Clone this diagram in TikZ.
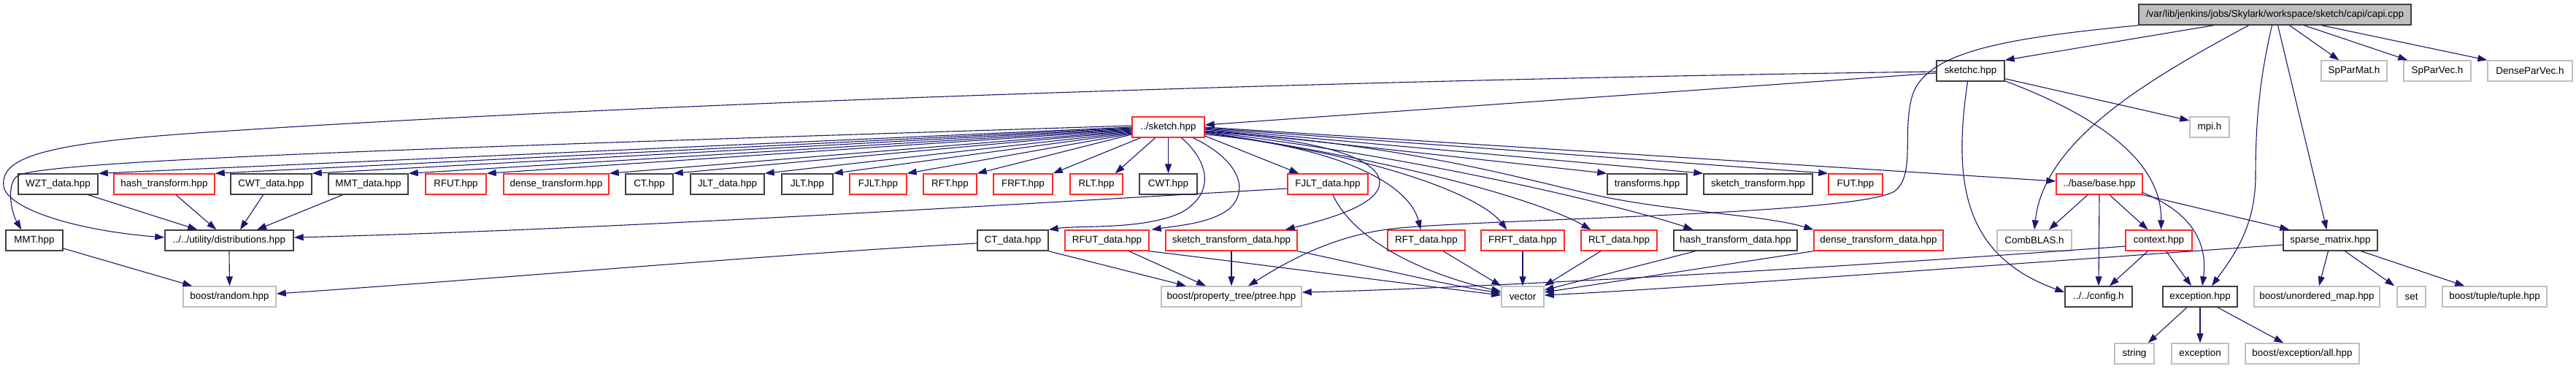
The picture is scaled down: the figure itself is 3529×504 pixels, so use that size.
\documentclass[tikz,border=0pt]{standalone}
\usepackage{fontspec}
\setmainfont{Liberation Sans}
\usetikzlibrary{arrows.meta}
\definecolor{edgeblue}{HTML}{191970}
\definecolor{boxred}{HTML}{FF2A2A}
\definecolor{boxgray}{HTML}{BFBFBF}
\definecolor{boxblack}{HTML}{404040}
\tikzset{
  base/.style={rectangle, inner sep=0pt, minimum height=28pt, line width=1.4pt, fill=white,
    font=\fontsize{13.4}{16}\selectfont, text=black},
  bx/.style={base, draw=boxblack},
  rbx/.style={base, draw=boxred},
  gbx/.style={base, draw=boxgray},
  rootbx/.style={base, draw=boxblack, fill=boxgray},
  edge/.style={draw=edgeblue, line width=1.1pt, -{Triangle[length=13pt,width=9pt]}}
}
\begin{document}
\begin{tikzpicture}[x=1pt,y=1pt]
\useasboundingbox (0,0) rectangle (3529,-504);
% row 0
\node[rootbx, minimum width=373] (capi) at (3116.5,-20) {/var/lib/jenkins/jobs/Skylark/workspace/sketch/capi/capi.cpp};
% row 1
\node[bx, minimum width=93] (sketchc) at (2699.5,-97) {sketchc.hpp};
\node[gbx, minimum width=90] (SpParMat) at (3225,-97) {SpParMat.h};
\node[gbx, minimum width=92] (SpParVec) at (3339,-97) {SpParVec.h};
\node[gbx, minimum width=116] (DenseParVec) at (3466,-97) {DenseParVec.h};
% row 2
\node[rbx, minimum width=99] (sketch) at (1600.5,-174) {../sketch.hpp};
\node[gbx, minimum width=54] (mpi) at (3027,-174) {mpi.h};
% row 3
\node[bx, minimum width=109] (WZT) at (79.5,-252) {WZT\_data.hpp};
\node[rbx, minimum width=138] (hasht) at (225,-252) {hash\_transform.hpp};
\node[bx, minimum width=111] (CWTd) at (371.5,-252) {CWT\_data.hpp};
\node[bx, minimum width=109] (MMTd) at (504.5,-252) {MMT\_data.hpp};
\node[rbx, minimum width=83] (RFUT) at (624.5,-252) {RFUT.hpp};
\node[rbx, minimum width=144] (denset) at (762,-252) {dense\_transform.hpp};
\node[bx, minimum width=65] (CT) at (889.5,-252) {CT.hpp};
\node[bx, minimum width=101] (JLTd) at (996.5,-252) {JLT\_data.hpp};
\node[bx, minimum width=70] (JLT) at (1106,-252) {JLT.hpp};
\node[rbx, minimum width=78] (FJLT) at (1203,-252) {FJLT.hpp};
\node[rbx, minimum width=73] (RFT) at (1301.5,-252) {RFT.hpp};
\node[rbx, minimum width=81] (FRFT) at (1401.5,-252) {FRFT.hpp};
\node[rbx, minimum width=72] (RLT) at (1502,-252) {RLT.hpp};
\node[bx, minimum width=79] (CWT) at (1600.5,-252) {CWT.hpp};
\node[rbx, minimum width=110] (FJLTd) at (1819,-252) {FJLT\_data.hpp};
\node[bx, minimum width=109] (transforms) at (2256.5,-252) {transforms.hpp};
\node[bx, minimum width=149] (skt) at (2408.5,-252) {sketch\_transform.hpp};
\node[rbx, minimum width=74] (FUT) at (2542,-252) {FUT.hpp};
\node[rbx, minimum width=118] (basehpp) at (2876,-252) {../base/base.hpp};
% row 4
\node[bx, minimum width=78] (MMT) at (47,-329) {MMT.hpp};
\node[bx, minimum width=176] (dist) at (314,-329) {../../utility/distributions.hpp};
\node[bx, minimum width=97] (CTd) at (1387.5,-329) {CT\_data.hpp};
\node[rbx, minimum width=115] (RFUTd) at (1516.5,-329) {RFUT\_data.hpp};
\node[rbx, minimum width=180] (sktd) at (1687,-329) {sketch\_transform\_data.hpp};
\node[rbx, minimum width=106] (RFTd) at (1954,-329) {RFT\_data.hpp};
\node[rbx, minimum width=114] (FRFTd) at (2086,-329) {FRFT\_data.hpp};
\node[rbx, minimum width=104] (RLTd) at (2218,-329) {RLT\_data.hpp};
\node[bx, minimum width=169] (hashtd) at (2377.5,-329) {hash\_transform\_data.hpp};
\node[rbx, minimum width=177] (densetd) at (2573.5,-329) {dense\_transform\_data.hpp};
\node[gbx, minimum width=102] (CombBLAS) at (2787,-329) {CombBLAS.h};
\node[rbx, minimum width=91] (context) at (2957.5,-329) {context.hpp};
\node[bx, minimum width=129] (sparse) at (3192.5,-329) {sparse\_matrix.hpp};
% row 5
\node[gbx, minimum width=127] (random) at (314.5,-406) {boost/random.hpp};
\node[gbx, minimum width=192] (ptree) at (1687,-406) {boost/property\_tree/ptree.hpp};
\node[gbx, minimum width=58] (vector) at (2086,-406) {vector};
\node[bx, minimum width=92] (config) at (2875,-406) {../../config.h};
\node[bx, minimum width=102] (exch) at (3014,-406) {exception.hpp};
\node[gbx, minimum width=172] (umap) at (3174,-406) {boost/unordered\_map.hpp};
\node[gbx, minimum width=39] (set) at (3303.5,-406) {set};
\node[gbx, minimum width=143] (tuple) at (3417.5,-406) {boost/tuple/tuple.hpp};
% row 6
\node[gbx, minimum width=54] (string) at (2924,-484) {string};
\node[gbx, minimum width=78] (exc) at (3014,-484) {exception};
\node[gbx, minimum width=156] (allhpp) at (3154,-484) {boost/exception/all.hpp};

% ---- edges from capi
\draw[edge] ([xshift=-84]capi.south) -- (sketchc.north east);
\draw[edge] (capi.south west) .. controls (2750,-52) and (2640,-70) .. (2620,-130)
  .. controls (2605,-180) and (2625,-240) .. (2595,-262)
  .. controls (2540,-295) and (2000,-300) .. (1900,-314)
  .. controls (1820,-325) and (1760,-360) .. ([xshift=23]ptree.north);
\draw[edge] ([xshift=-36]capi.south) .. controls (2950,-105) and (2800,-190) .. (CombBLAS.north);
\draw[edge] ([xshift=-4]capi.south) .. controls (3095,-110) and (3090,-170) .. (3090,-240)
  .. controls (3090,-310) and (3060,-350) .. ([xshift=16]exch.north);
\draw[edge] ([xshift=4]capi.south) -- ([xshift=-5]sparse.north);
\draw[edge] ([xshift=20]capi.south) -- ([xshift=25]SpParMat.north west);
\draw[edge] ([xshift=40]capi.south) -- ([xshift=6]SpParVec.north west);
\draw[edge] ([xshift=64]capi.south) -- (DenseParVec.north west);

% ---- edges from sketchc
\draw[edge] ([yshift=-3]sketchc.west) -- ([yshift=3]sketch.east);
\draw[edge] ([yshift=-1]sketchc.west) .. controls (1900,-108) and (900,-140) .. (300,-180)
  .. controls (60,-195) and (0,-215) .. (5,-255)
  .. controls (10,-285) and (100,-315) .. ([yshift=4]dist.west);
\draw[edge] ([yshift=4]sketchc.south east) -- ([yshift=9]mpi.west);
\draw[edge] ([yshift=1]sketchc.south east) .. controls (2850,-150) and (2962,-210) .. ([xshift=3]context.north);
\draw[edge] ([xshift=-4]sketchc.south) .. controls (2675,-250) and (2690,-350) .. ([yshift=6]config.west);

% ---- edges from ../sketch.hpp to the left
\draw[edge] ([yshift=2]sketch.west) .. controls (700,-199) and (70,-218) .. (25,-240)
  .. controls (8,-250) and (15,-290) .. ([xshift=22]MMT.north west);
\draw[edge] (sketch.west) -- (WZT.north east);
\draw[edge] ([yshift=-1]sketch.west) -- (hasht.north east);
\draw[edge] ([yshift=-2]sketch.west) -- (CWTd.north east);
\draw[edge] ([yshift=-3]sketch.west) -- (MMTd.north east);
\draw[edge] ([yshift=-4]sketch.west) -- (RFUT.north east);
\draw[edge] ([yshift=-5]sketch.west) -- (denset.north east);
\draw[edge] ([yshift=-6]sketch.west) -- (CT.north east);
\draw[edge] ([yshift=-7]sketch.west) -- (JLTd.north east);
\draw[edge] ([yshift=-8]sketch.west) -- (JLT.north east);
\draw[edge] ([yshift=-9]sketch.west) -- (FJLT.north east);
\draw[edge] ([yshift=-10]sketch.west) -- (RFT.north east);
\draw[edge] ([xshift=12]sketch.south west) -- (FRFT.north east);
\draw[edge] ([xshift=-18]sketch.south) -- ([xshift=-11]RLT.north east);
\draw[edge] (sketch.south) -- (CWT.north);
% ---- edges from ../sketch.hpp downwards / right
\draw[edge] ([xshift=18]sketch.south) .. controls (1650,-215) and (1670,-260) .. (1620,-290)
  .. controls (1570,-315) and (1480,-308) .. (CTd.north east);
\draw[edge] ([xshift=34]sketch.south) .. controls (1690,-215) and (1715,-255) .. (1685,-285)
  .. controls (1660,-305) and (1620,-308) .. ([xshift=3]RFUTd.north east);
\draw[edge] ([yshift=-12]sketch.east) -- ([xshift=16]FJLTd.north west);
\draw[edge] ([yshift=-6]sketch.east) .. controls (1800,-190) and (1890,-215) .. (1890,-250)
  .. controls (1890,-280) and (1820,-300) .. ([xshift=-17]sktd.north east);
\draw[edge] ([yshift=-10]sketch.east) .. controls (1830,-200) and (1930,-250) .. ([xshift=46]RFTd.north west);
\draw[edge] ([yshift=-8]sketch.east) .. controls (1900,-215) and (2030,-270) .. ([xshift=36]FRFTd.north west);
\draw[edge] ([yshift=-7]sketch.east) .. controls (1950,-225) and (2120,-280) .. ([xshift=14]RLTd.north west);
\draw[edge] ([yshift=-6]sketch.east) .. controls (1980,-220) and (2250,-290) .. ([xshift=27]hashtd.north west);
\draw[edge] ([yshift=-5]sketch.east) .. controls (1950,-200) and (2100,-250) .. (2200,-270)
  .. controls (2300,-290) and (2420,-295) .. (densetd.north west);
\draw[edge] ([yshift=-3]sketch.east) -- (transforms.north west);
\draw[edge] ([yshift=-2]sketch.east) -- (skt.north west);
\draw[edge] ([yshift=-1]sketch.east) -- (FUT.north west);
\draw[edge] (sketch.east) -- ([yshift=4]basehpp.west);

% ---- row 3 -> row 4
\draw[edge] ([xshift=-14]WZT.south east) -- ([xshift=45]dist.north west);
\draw[edge] ([xshift=16]hasht.south) -- ([xshift=71]dist.north west);
\draw[edge] ([xshift=-11]CWTd.south) -- ([xshift=15]dist.north);
\draw[edge] ([xshift=-35]MMTd.south) -- ([xshift=38]dist.north);
\draw[edge] ([yshift=-6]FJLTd.west) .. controls (1300,-285) and (800,-315) .. ([yshift=4]dist.east);
\draw[edge] ([xshift=7]FJLTd.south) .. controls (1850,-320) and (1930,-370) .. ([yshift=7]vector.west);

% ---- row 4 -> row 5
\draw[edge] (dist.south) -- (random.north);
\draw[edge] ([yshift=-11]MMT.east) -- ([xshift=13]random.north west);
\draw[edge] ([yshift=-4]CTd.west) .. controls (1100,-345) and (700,-380) .. ([yshift=4]random.east);
\draw[edge] (CTd.south east) -- ([xshift=-62]ptree.north);
\draw[edge] ([xshift=30]RFUTd.south) -- ([xshift=-35]ptree.north);
\draw[edge] (RFUTd.south east) .. controls (1750,-365) and (1900,-385) .. ([yshift=2]vector.west);
\draw[edge] (sktd.south) -- (ptree.north);
\draw[edge] (sktd.south east) .. controls (1880,-365) and (1980,-390) .. ([yshift=5]vector.west);
\draw[edge] ([xshift=23]RFTd.south) -- (vector.north west);
\draw[edge] (FRFTd.south) -- (vector.north);
\draw[edge] ([xshift=-25]RLTd.south) -- (vector.north east);
\draw[edge] ([xshift=-55]hashtd.south) -- ([yshift=9]vector.east);
\draw[edge] (densetd.south west) -- ([yshift=6]vector.east);
\draw[edge] ([yshift=-8]context.west) .. controls (2500,-368) and (2000,-395) .. ([yshift=6]ptree.east);
\draw[edge] ([yshift=-6]sparse.west) .. controls (2700,-365) and (2300,-395) .. ([yshift=2]vector.east);
\draw[edge] ([xshift=-15]context.south) -- ([xshift=15]config.north);
\draw[edge] ([xshift=10]context.south) -- ([xshift=-12]exch.north);

% ---- base.hpp
\draw[edge] ([xshift=-16]basehpp.south) -- ([xshift=20]CombBLAS.north);
\draw[edge] (basehpp.south) -- (config.north);
\draw[edge] ([xshift=14]basehpp.south) -- ([xshift=-15]context.north);
\draw[edge] ([yshift=3]basehpp.south east) .. controls (3000,-290) and (3025,-330) .. ([xshift=3]exch.north);
\draw[edge] (basehpp.south east) -- ([xshift=9]sparse.north west);

% ---- sparse_matrix.hpp
\draw[edge] ([xshift=-3]sparse.south) -- ([xshift=3]umap.north);
\draw[edge] ([xshift=20]sparse.south) -- ([xshift=-3]set.north west);
\draw[edge] ([xshift=42]sparse.south) -- ([xshift=31]tuple.north west);

% ---- exception.hpp
\draw[edge] ([xshift=-18]exch.south) -- ([xshift=-9]string.north east);
\draw[edge] (exch.south) -- (exc.north);
\draw[edge] ([xshift=24]exch.south) -- ([xshift=53]allhpp.north west);
\end{tikzpicture}
\end{document}
